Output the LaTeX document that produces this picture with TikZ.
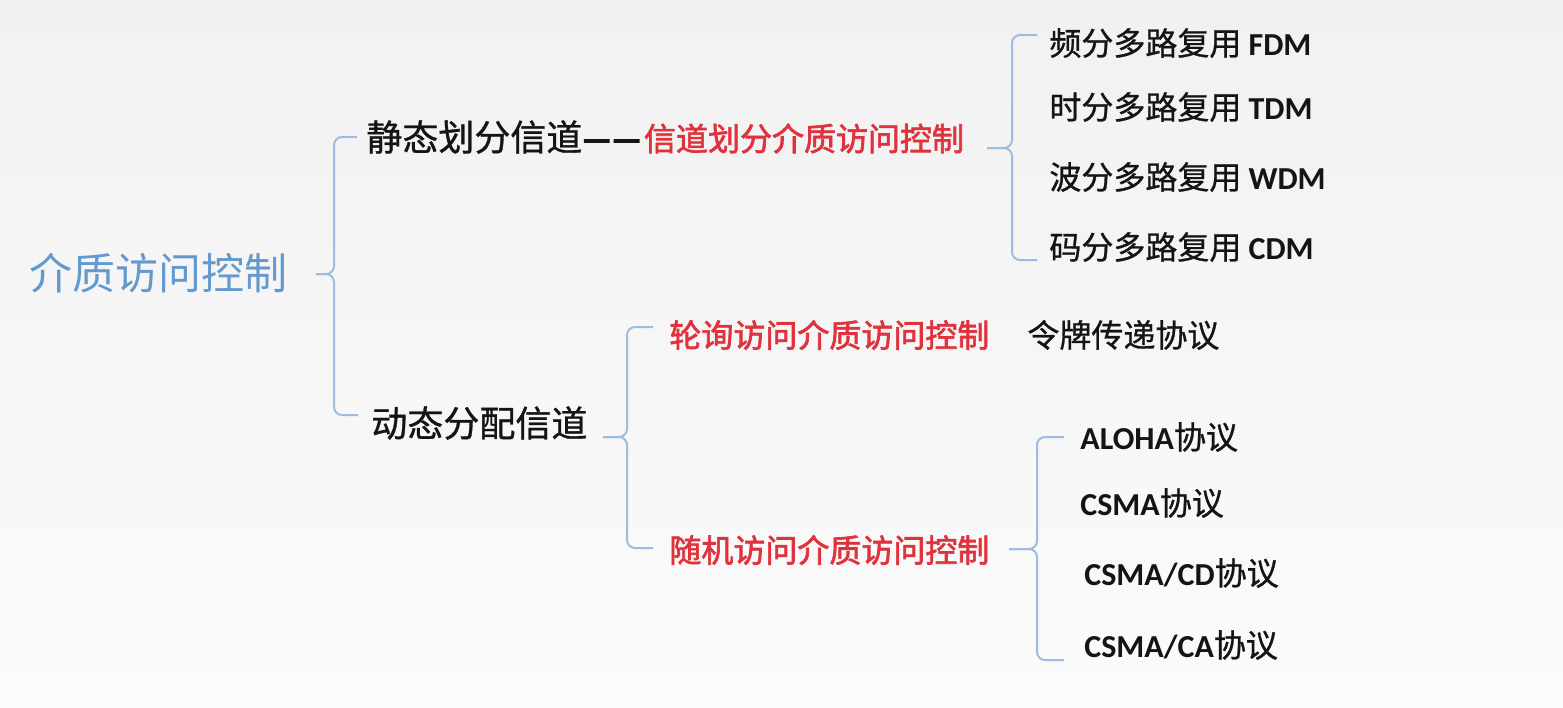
\documentclass[tikz,border=0pt]{standalone}
\usepackage{fontspec}
\setmainfont{Carlito}
\newfontfamily\cjk{Noto Sans CJK SC}
\newfontfamily\cjkm{Noto Sans CJK SC}[FakeBold=0.9]
\newfontfamily\cjkb{Noto Sans CJK SC}[FakeBold=2]
\newfontfamily\cjkdash{Noto Sans CJK SC}[FakeBold=6]
\newfontfamily\lat{Carlito}
\usetikzlibrary{calc}
\definecolor{rootblue}{HTML}{6399CE}
\definecolor{brc}{HTML}{9CBDE0}
\definecolor{redt}{HTML}{E0323C}
\definecolor{txt}{HTML}{141414}
\definecolor{bgtop}{HTML}{F1F1F1}
\definecolor{bgbot}{HTML}{FBFBFB}
\tikzset{
  br/.style={draw=brc, line width=1pt, rounded corners=4pt},
  lbl/.style={inner sep=0pt, anchor=west, text=txt, font=\cjkm\fontsize{16pt}{19pt}\selectfont},
  biglbl/.style={lbl, font=\cjkm\fontsize{18pt}{21pt}\selectfont},
  redlbl/.style={lbl, text=redt, font=\cjkb\fontsize{16pt}{19pt}\selectfont},
  rootlbl/.style={lbl, text=rootblue, font=\cjk\fontsize{21.5pt}{25pt}\selectfont},
}
\newcommand{\lb}[1]{{\lat\bfseries #1}}
\newcommand{\dd}{{\cjkdash\fontsize{15pt}{16pt}\selectfont\raisebox{0.6pt}{\kern0.5pt—\kern1.5pt—}}}
\begin{document}
\begin{tikzpicture}[x=0.5pt,y=-0.5pt]
\useasboundingbox (0,0) rectangle (1563,707);
\shade[top color=bgtop, bottom color=bgbot, shading angle=0] (0,0) rectangle (1563,707);

% nodes
\node[rootlbl] (root) at (29,273) {介质访问控制};
\node[biglbl] (s1) at (366,137) {静态划分信道\dd\kern2pt\textcolor{redt}{\cjkb\fontsize{16pt}{19pt}\selectfont 信道划分介质访问控制}};
\node[biglbl] (s2) at (371,423) {动态分配信道};

\node[lbl] (f1) at (1049,43) {频分多路复用 \lb{FDM}};
\node[lbl] (f2) at (1049,107) {时分多路复用 \lb{TDM}};
\node[lbl] (f3) at (1049,177) {波分多路复用 \lb{WDM}};
\node[lbl] (f4) at (1049,247) {码分多路复用 \lb{CDM}};

\node[redlbl] (p1) at (669,335) {轮询访问介质访问控制};
\node[lbl] (tok) at (1027,335) {令牌传递协议};
\node[redlbl] (p2) at (669,550) {随机访问介质访问控制};

\node[lbl] (r1) at (1080,437) {\lb{ALOHA}协议};
\node[lbl] (r2) at (1080,503) {\lb{CSMA}协议};
\node[lbl] (r3) at (1084,573) {\lb{CSMA/CD}协议};
\node[lbl] (r4) at (1084,645) {\lb{CSMA/CA}协议};

% brace 1
\coordinate (t1) at (316,274);
\coordinate (v1) at (334,274);
\draw[br] (t1) -- (v1) -- (v1 |- s1.west) -- ([xshift=-4.5pt]s1.west);
\draw[br] (t1) -- (v1) -- ([yshift=4pt]v1 |- s2.west) -- ([xshift=-6.5pt,yshift=4pt]s2.west);

% brace 2
\coordinate (t2) at (987,148);
\coordinate (v2) at (1012,148);
\draw[br] (t2) -- (v2) -- ([yshift=4pt]v2 |- f1.west) -- ([xshift=-6pt,yshift=4pt]f1.west);
\draw[br] (t2) -- (v2) -- ([yshift=-6.5pt]v2 |- f4.west) -- ([xshift=-6pt,yshift=-6.5pt]f4.west);

% brace 3
\coordinate (t3) at (603,437);
\coordinate (v3) at (627,437);
\draw[br] (t3) -- (v3) -- ([yshift=4pt]v3 |- p1.west) -- ([xshift=-8pt,yshift=4pt]p1.west);
\draw[br] (t3) -- (v3) -- ([yshift=1pt]v3 |- p2.west) -- ([xshift=-8pt,yshift=1pt]p2.west);

% brace 4
\coordinate (t4) at (1009,549);
\coordinate (v4) at (1037,549);
\draw[br] (t4) -- (v4) -- (v4 |- r1.west) -- ([xshift=-8pt]r1.west);
\draw[br] (t4) -- (v4) -- ([yshift=-7.5pt]v4 |- r4.west) -- ([xshift=-10pt,yshift=-7.5pt]r4.west);
\end{tikzpicture}
\end{document}
